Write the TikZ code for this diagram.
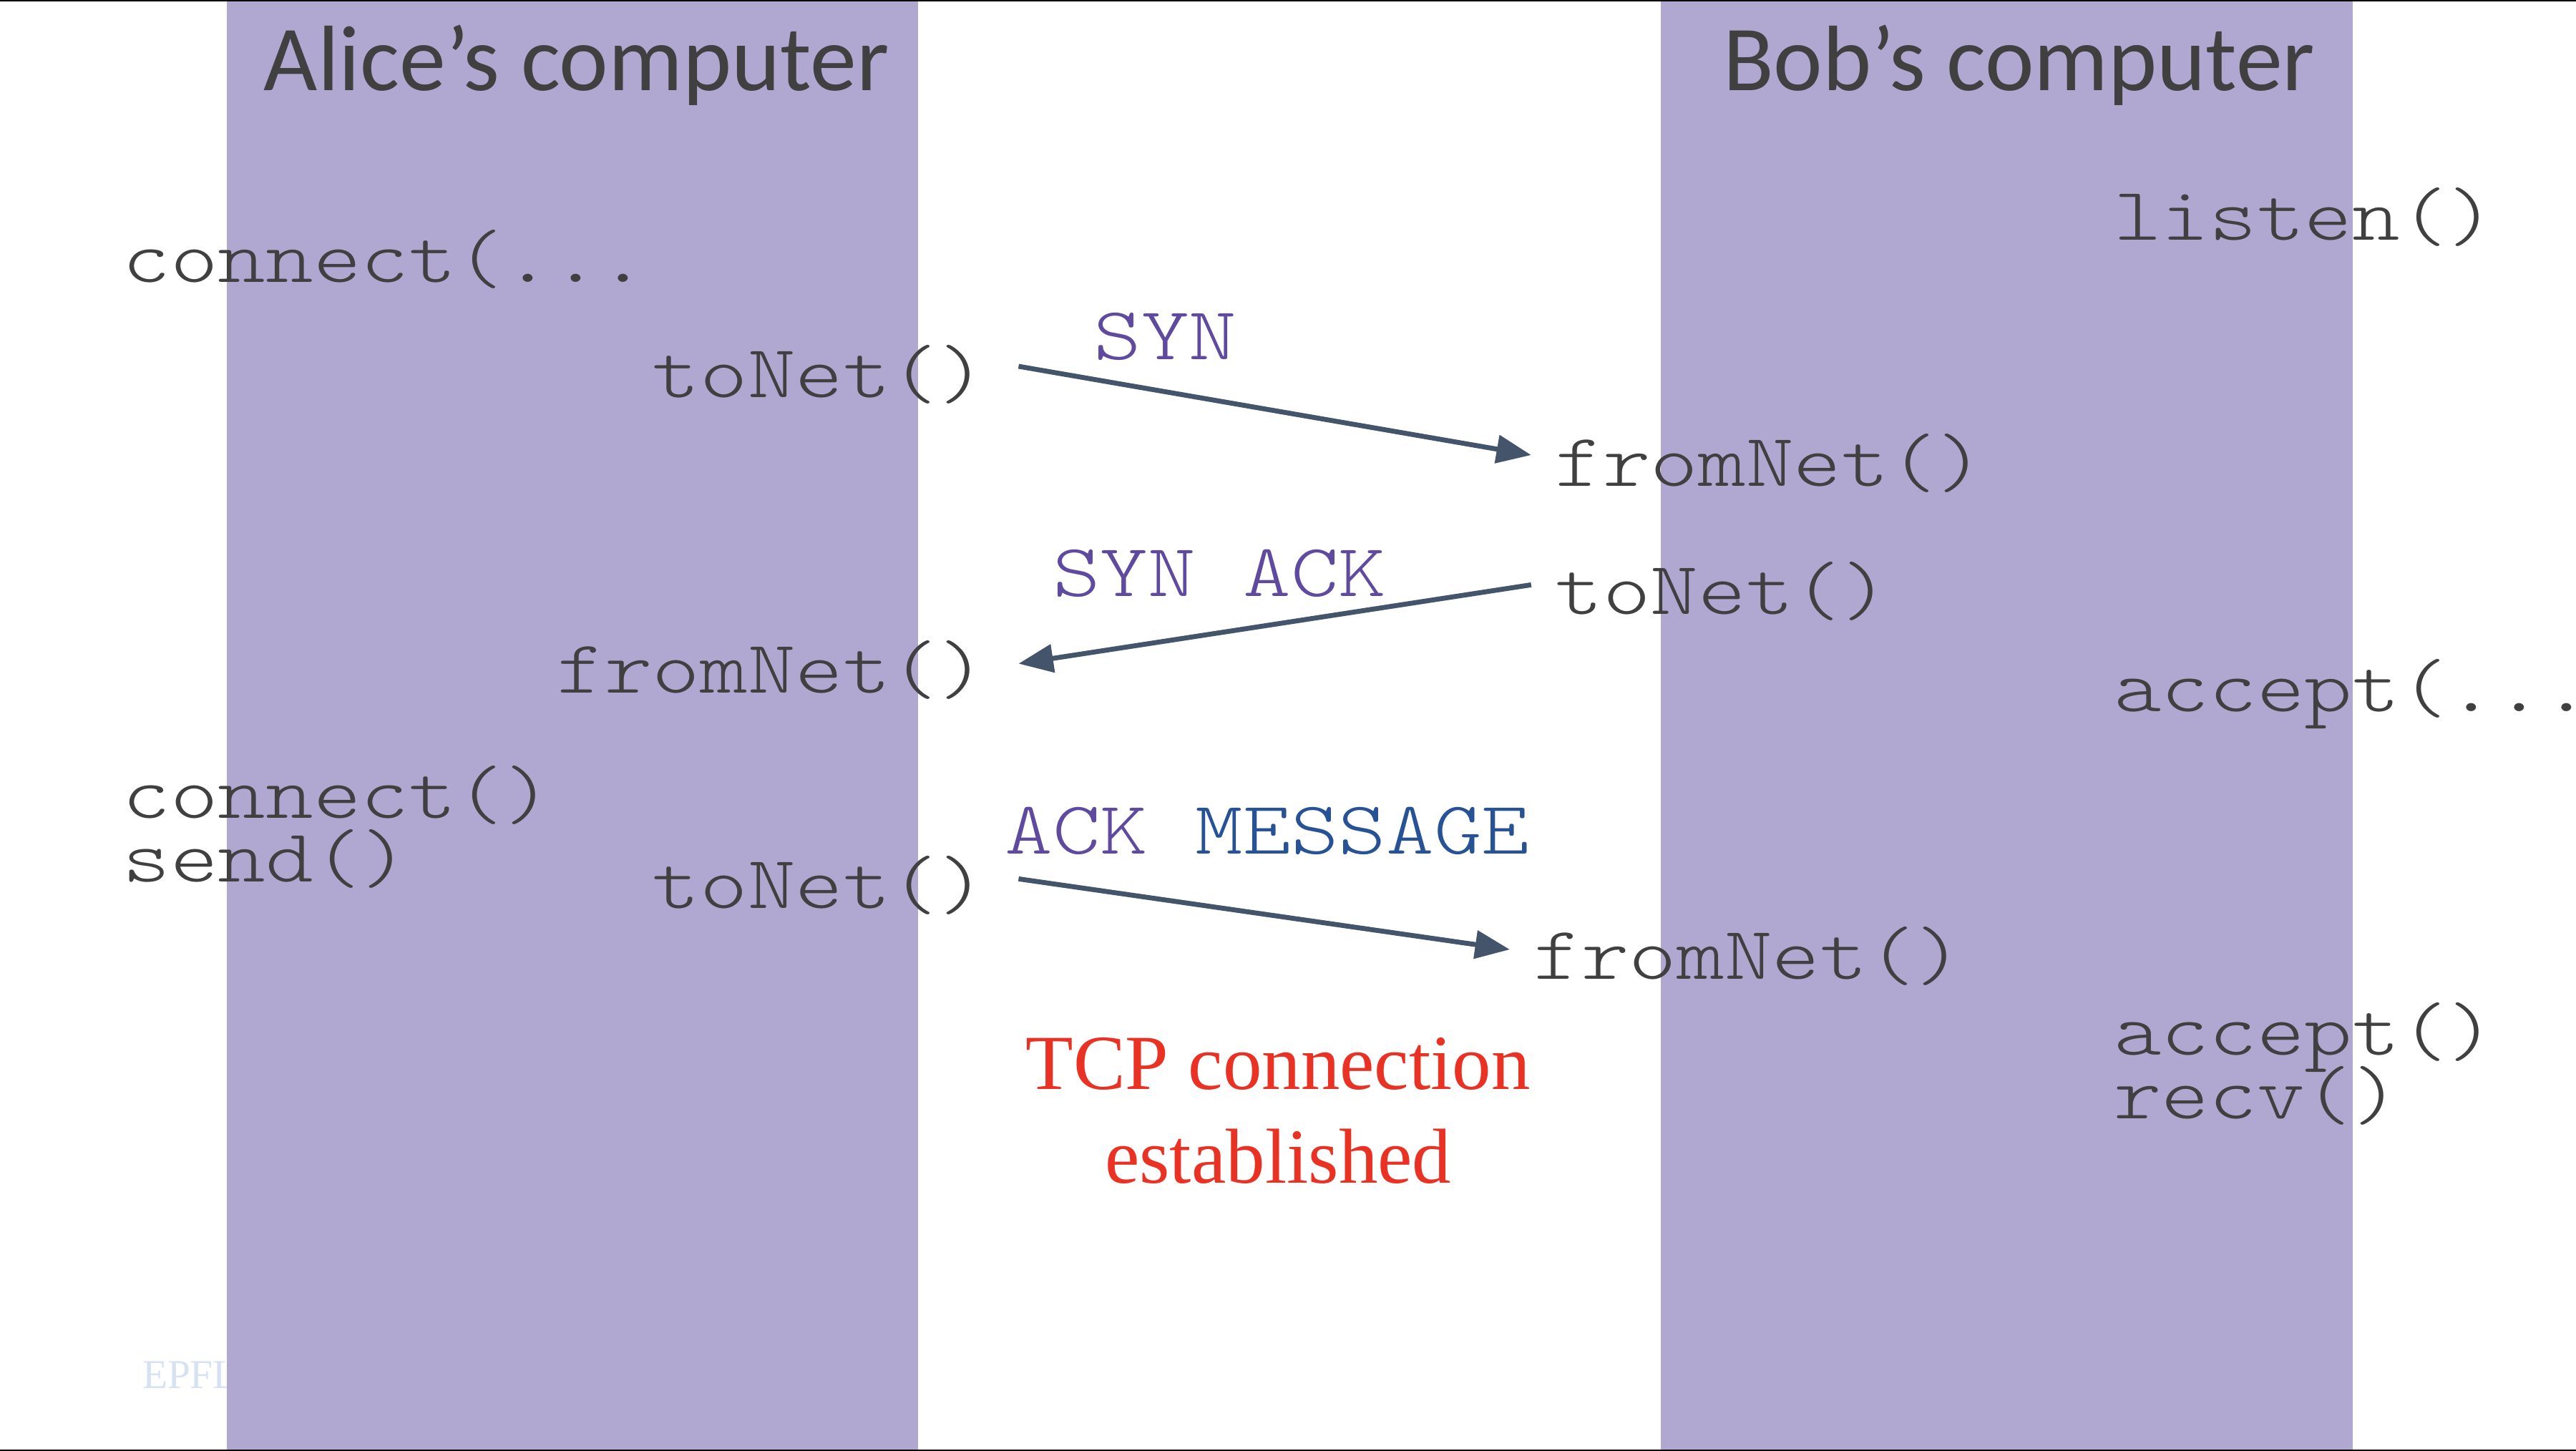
\documentclass[tikz,border=0pt]{standalone}
\usepackage{fontspec}
\usetikzlibrary{arrows.meta}

\newfontfamily\headfont{Carlito}
\newfontfamily\callfont[FakeStretch=1.21]{lmmonolt10-regular.otf}
\newfontfamily\notefont{Liberation Serif}

\definecolor{lilac}{RGB}{177,168,210}
\definecolor{inkgray}{RGB}{64,64,64}
\definecolor{slate}{RGB}{68,84,106}
\definecolor{synpurple}{RGB}{96,74,160}
\definecolor{msgblue}{RGB}{40,82,150}
\definecolor{tcpred}{RGB}{234,50,36}
\definecolor{epflblue}{RGB}{214,226,242}

\tikzset{
    header/.style={font=\headfont\fontsize{16.1}{19}\selectfont, text=inkgray, inner sep=0pt, anchor=base},
    calltext/.style={font=\callfont\fontsize{13}{15.6}\selectfont, text=inkgray, inner sep=0pt},
    packet/.style={font=\callfont\fontsize{13}{15.6}\selectfont, text=synpurple, inner sep=0pt, anchor=base west},
    note/.style={font=\notefont\fontsize{13.5}{16}\selectfont, text=tcpred, inner sep=0pt, anchor=base},
    sendline/.style={draw=slate, line width=0.85pt, -{Triangle[length=6pt,width=4.8pt]}},
}

\begin{document}
\begin{tikzpicture}[x=0.1mm,y=-0.1mm]
    \useasboundingbox (0,0) rectangle (1568,883.3);
    \node[font=\notefont\fontsize{7.1}{8}\selectfont, text=epflblue, inner sep=0pt, anchor=base west] (epfl) at (86,845) {EPFL};
    \foreach \x in {138,1011}{
        \fill[lilac] (\x,0) rectangle ++(421,883.3);
    };
    \draw[line width=0.5pt] (0,0) -- (1568,0) (0,883.3) -- (1568,883.3);

    % titles
    \node[header] (alice) at (351,55) {Alice’s computer};
    \node[header] (bob) at (1229,55) {Bob’s computer};

    % Alice
    \node[calltext, anchor=base west] (connA) at (74,172) {connect(...};
    \node[calltext, anchor=base east] (toA1) at (601,242) {toNet()};
    \node[calltext, anchor=base east] (fromA1) at (601,422) {fromNet()};
    \node[calltext, anchor=base west] (connA2) at (74,498) {connect()};
    \node[calltext, anchor=base west] (sendA) at (74,537) {send()};
    \node[calltext, anchor=base east] (toA2) at (601,553) {toNet()};

    % Bob
    \node[calltext, anchor=base west] (listenB) at (1286,146) {listen()};
    \node[calltext, anchor=base west] (fromB1) at (946,296) {fromNet()};
    \node[calltext, anchor=base west] (toB1) at (946,374) {toNet()};
    \node[calltext, anchor=base west] (acceptB) at (1286,433) {accept(...};
    \node[calltext, anchor=base west] (fromB2) at (933,596) {fromNet()};
    \node[calltext, anchor=base west] (acceptB2) at (1286,642) {accept()};
    \node[calltext, anchor=base west] (recvB) at (1286,681) {recv()};

    % handshake
    \node[packet] (syn) at (665,219) {SYN};
    \node[packet] (synack) at (640,363) {SYN ACK};
    \node[packet] (ackmsg) at (611,520) {ACK \textcolor{msgblue}{MESSAGE}};
    \draw[sendline] ([shift={(19,-19)}]toA1.base east) -- ([shift={(-14,-19)}]fromB1.base west);
    \draw[sendline] ([shift={(-14,-18)}]toB1.base west) -- ([shift={(19,-18)}]fromA1.base east);
    \draw[sendline] ([shift={(19,-18)}]toA2.base east) -- ([shift={(-14,-18)}]fromB2.base west);

    \node[note] (tcp) at (778,663) {TCP connection};
    \node[note] (established) at (778,720) {established};
\end{tikzpicture}
\end{document}
